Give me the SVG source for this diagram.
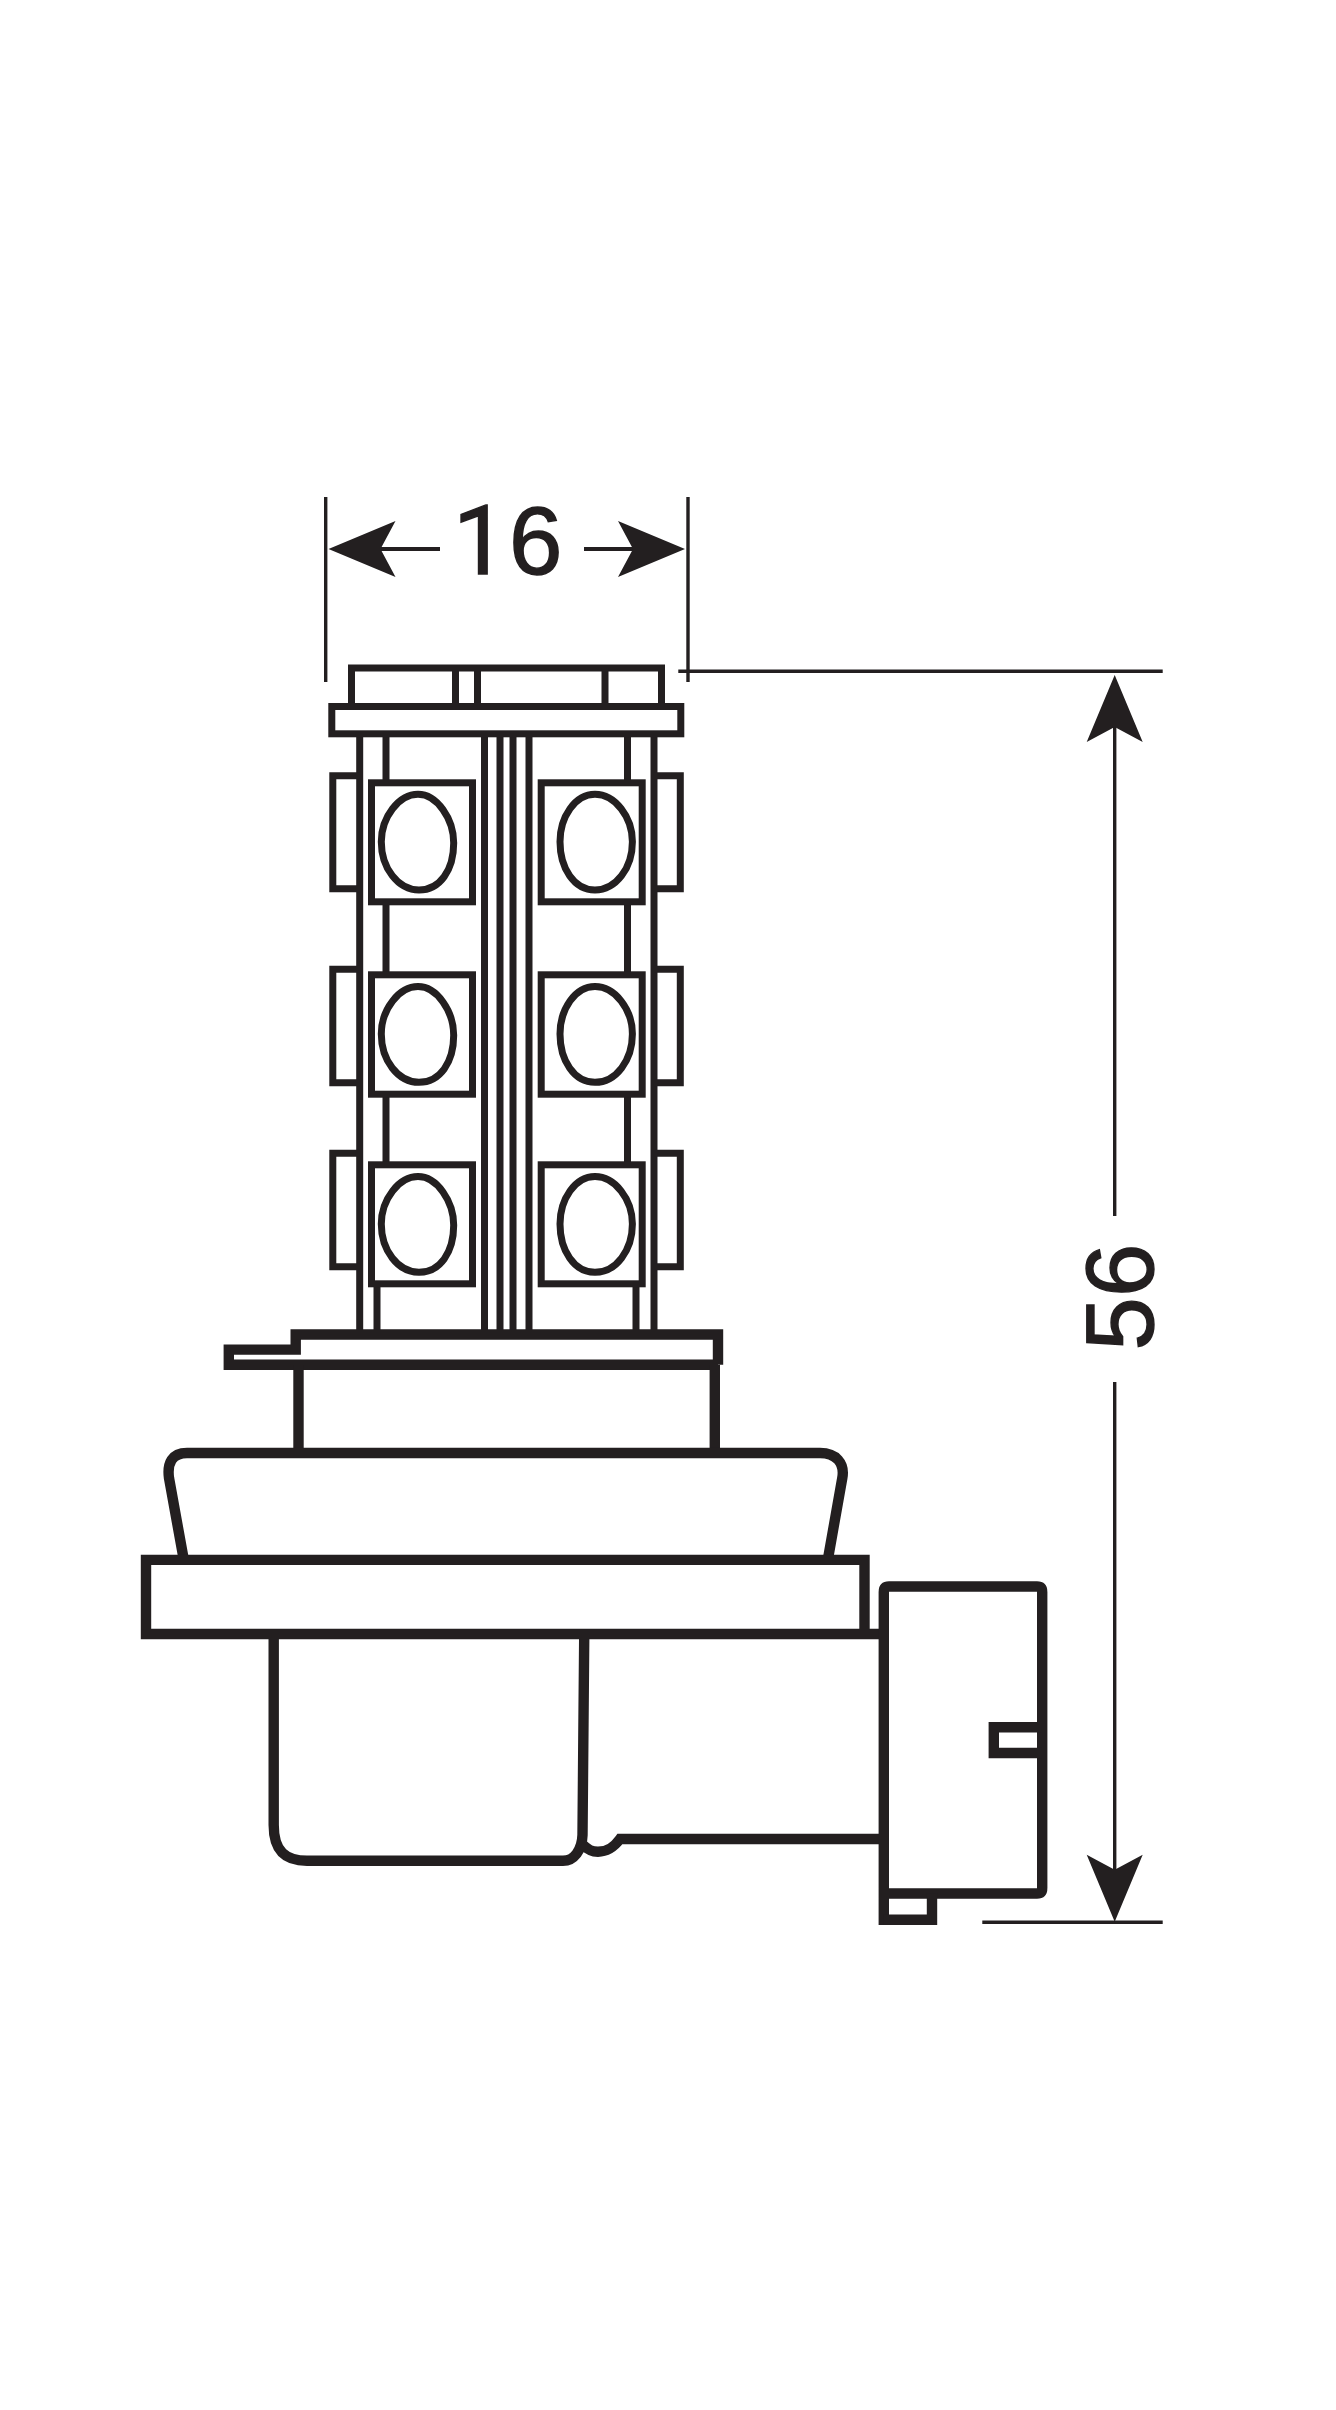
<svg xmlns="http://www.w3.org/2000/svg" xmlns:xlink="http://www.w3.org/1999/xlink" width="1336" height="2410" viewBox="0 0 1336 2410">
<style>
.a{fill:none;stroke:#231f20;stroke-width:7;stroke-linejoin:miter}
.b{fill:none;stroke:#231f20;stroke-width:10.4;stroke-linejoin:miter}
.d{fill:none;stroke:#231f20;stroke-width:3.4}
.h{fill:#231f20;stroke:none}
.t{font-family:"Liberation Sans",Arial,sans-serif;font-size:96px;fill:#231f20;stroke:#231f20;stroke-width:1.4}
.o{font-family:Roboto,"Liberation Sans",sans-serif}
</style>
<defs>
<polygon id="head" class="h" points="0,0 28,67 0,52 -28,67"/>
<path id="egg-l" class="a" d="M418 794.3C437 794.3 453.7 819 453.7 843C453.7 870 440 890 419 890C398 890 381.3 868 381.3 841.7C381.3 817 399 794.3 418 794.3Z"/>
<path id="egg-r" class="a" d="M595 794.3C615 794.3 632.4 817 632.4 841.7C632.4 868 616 890 595 890C574 890 560 868 560 841.7C560 817 575 794.3 595 794.3Z"/>
</defs>
<g id="led-column">
<path class="a" d="M359.7 737V1331M654 737V1331M484.5 737V1331M500 737V1331M513 737V1331M529 737V1331"/>
<path class="a" d="M386 737V780M386 905V972M386 1097V1162M627.5 737V780M627.5 905V972M627.5 1097V1162M377 1287V1331M636 1287V1331"/>
</g>
<g id="top-cap">
<path class="a" d="M351.5 706V668H661.5V706"/>
<path class="a" d="M455.5 668V706M477.5 668V706M605 668V706"/>
<rect class="a" x="331.8" y="706.5" width="349" height="27.3"/>
</g>
<g id="side-tabs">
<path class="a" d="M360 775.7H332.8V888.7H360M360 969.3H332.8V1082.7H360M360 1153.3H332.8V1266.7H360"/>
<path class="a" d="M654 775.7H680.3V888.7H654M654 969.3H680.3V1082.7H654M654 1153.3H680.3V1266.7H654"/>
</g>
<g id="led-1"><rect class="a" x="371.5" y="782.8" width="101" height="119"/><use xlink:href="#egg-l" href="#egg-l"/></g>
<g id="led-2"><rect class="a" x="541.2" y="782.8" width="101" height="119"/><use xlink:href="#egg-r" href="#egg-r"/></g>
<g id="led-3"><rect class="a" x="371.5" y="974.8" width="101" height="119.4"/><use xlink:href="#egg-l" href="#egg-l" transform="translate(0 192.3)"/></g>
<g id="led-4"><rect class="a" x="541.2" y="974.8" width="101" height="119.4"/><use xlink:href="#egg-r" href="#egg-r" transform="translate(0 192.3)"/></g>
<g id="led-5"><rect class="a" x="371.5" y="1164.8" width="101" height="119"/><use xlink:href="#egg-l" href="#egg-l" transform="translate(0 382.3)"/></g>
<g id="led-6"><rect class="a" x="541.2" y="1164.8" width="101" height="119"/><use xlink:href="#egg-r" href="#egg-r" transform="translate(0 382.3)"/></g>
<g id="collar">
<path class="b" d="M718 1364.8V1334.5H295.7V1349.6H228.8V1364.8H718"/>
<path class="b" d="M298.5 1365V1453M714.8 1365V1453"/>
</g>
<g id="flange">
<path class="b" d="M183.3 1557L169 1478C167 1463 172 1453 187 1453H820C836 1453 845 1463 842.3 1478L828.3 1557"/>
</g>
<g id="base-plate">
<path class="b" d="M884 1634H146V1559.9H864.5V1634"/>
</g>
<g id="housing">
<path class="b" d="M273.7 1639V1825C273.7 1852 286 1860.8 307 1860.8H563C574 1860.8 582 1850 582.5 1835L584.2 1639"/>
<path class="b" d="M582 1844C588 1850 592 1851.7 598 1851.7C608 1851.7 614 1847 620 1839H884"/>
</g>
<g id="connector-block">
<path class="b" d="M883.8 1925V1592C883.8 1588 885.3 1586.5 889 1586.5H1037C1040.7 1586.5 1042.2 1588 1042.2 1592V1888C1042.2 1892 1040.7 1893.5 1037 1893.5H883.8"/>
<path class="b" d="M1042 1727.2H993.8V1753H1042"/>
<path class="b" d="M883.8 1919.8H932V1893.5"/>
</g>
<g id="connectors">
<path class="d" d="M325.7 497V682M688 497V682"/>
<path class="d" d="M380 549H440M584 549H633" style="stroke-width:4"/>
<use xlink:href="#head" href="#head" transform="translate(328.5 549) rotate(-90)"/>
<use xlink:href="#head" href="#head" transform="translate(685 549) rotate(90)"/>
<path class="d" d="M678.3 671.3H1162.7M982.3 1922.3H1162.7"/>
<path class="d" d="M1114.7 727V1216M1114.7 1382V1873"/>
<use xlink:href="#head" href="#head" transform="translate(1114.7 675)"/>
<use xlink:href="#head" href="#head" transform="translate(1114.7 1921.7) rotate(180)"/>
</g>
<g id="dimension-labels">
<text class="t" y="574"><tspan class="o" x="453">1</tspan><tspan x="509">6</tspan></text>
<text class="t" transform="translate(1153 1297) rotate(-90)" text-anchor="middle">56</text>
</g>
</svg>
